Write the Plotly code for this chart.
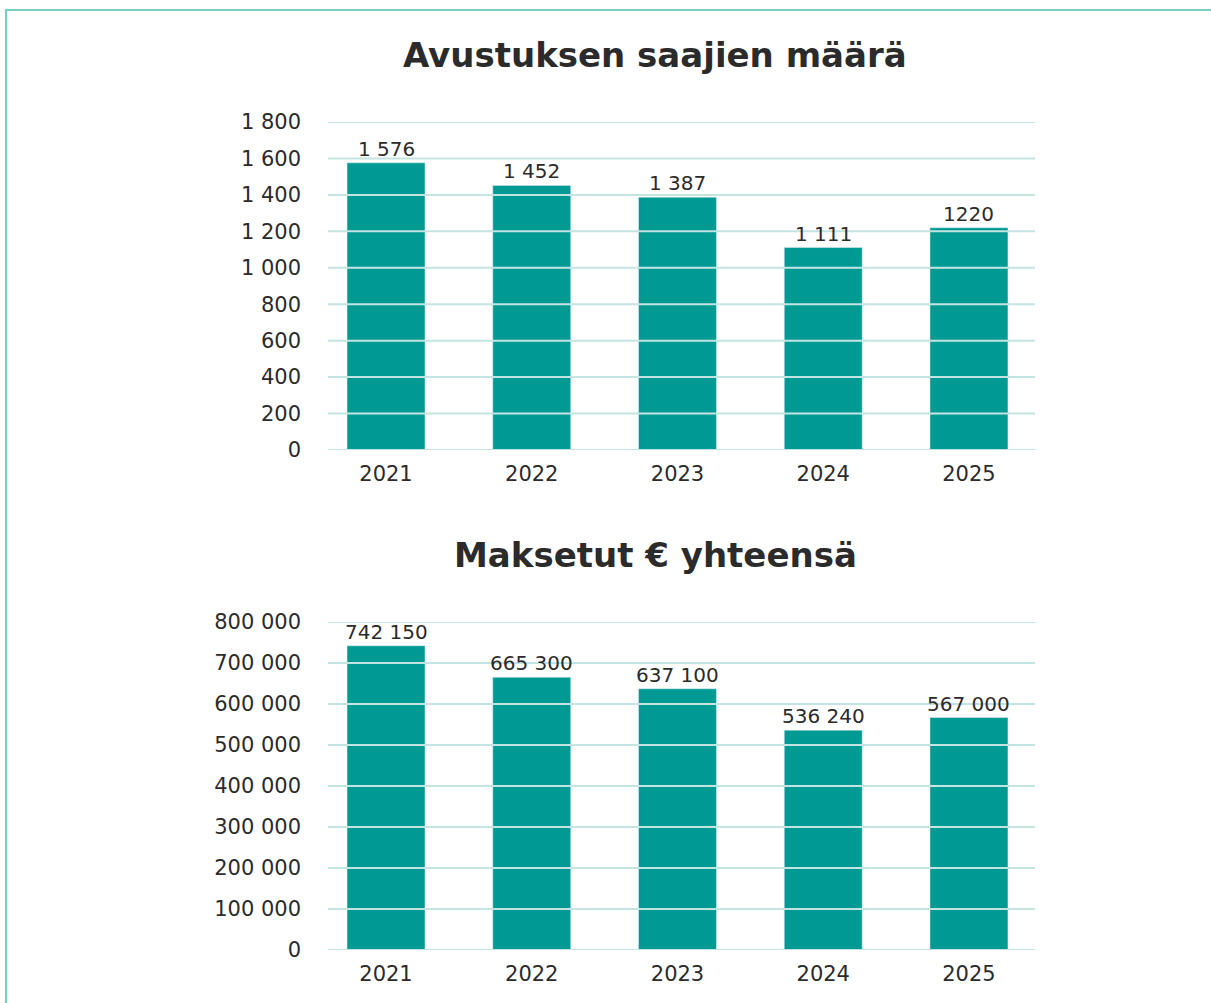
import plotly.graph_objects as go

# Data
years = ["2021", "2022", "2023", "2024", "2025"]
recipients = [1576, 1452, 1387, 1111, 1220]
recipient_labels = ["1 576", "1 452", "1 387", "1 111", "1220"]
paid = [742150, 665300, 637100, 536240, 567000]
paid_labels = ["742 150", "665 300", "637 100", "536 240", "567 000"]

recipient_ticks = list(range(0, 1801, 200))
paid_ticks = list(range(0, 800001, 100000))

BAR = "#009a93"
GRID = "#c3e4e3"
FRAME = "#79cfc7"
TEXT = "#2b2b2b"
FONT = "DejaVu Sans"

W, H = 1211, 1003

fig = go.Figure()

fig.add_trace(go.Bar(x=years, y=recipients, marker_color=BAR, width=0.535,
                     xaxis="x", yaxis="y", showlegend=False))
fig.add_trace(go.Bar(x=years, y=paid, marker_color=BAR, width=0.535,
                     xaxis="x2", yaxis="y2", showlegend=False))

xdom = [328 / W, 1035 / W]
xrange = [-0.398, 4.453]
common_x = dict(type="category", domain=xdom, range=xrange, showgrid=False, showline=False,
                ticks="", tickfont=dict(size=21, color=TEXT, family=FONT), automargin=False,
                ticklabelstandoff=9)
common_y = dict(showgrid=False, zeroline=False, showline=False, ticks="",
                tickfont=dict(size=21, color=TEXT, family=FONT), automargin=False,
                ticklabelstandoff=26)

fig.update_layout(
    width=W, height=H,
    margin=dict(l=0, r=0, t=0, b=0),
    plot_bgcolor="white", paper_bgcolor="white",
    separators=", ",
    xaxis=dict(**common_x, anchor="y"),
    yaxis=dict(**common_y, domain=[1 - 450 / H, 1 - 122 / H], range=[0, 1800],
               tickvals=recipient_ticks, tickformat=",d", anchor="x"),
    xaxis2=dict(**common_x, anchor="y2"),
    yaxis2=dict(**common_y, domain=[1 - 950 / H, 1 - 622 / H], range=[0, 800000],
                tickvals=paid_ticks, tickformat=",d", anchor="x2"),
)

# gridlines drawn above the bars
for v in recipient_ticks:
    fig.add_shape(type="line", xref="x domain", yref="y", x0=0, x1=1, y0=v, y1=v,
                  line=dict(color=GRID, width=2), layer="above")
for v in paid_ticks:
    fig.add_shape(type="line", xref="x2 domain", yref="y2", x0=0, x1=1, y0=v, y1=v,
                  line=dict(color=GRID, width=2), layer="above")

# value labels as annotations so they sit above the gridlines
# (category axis: position by category index)
label_font = dict(size=20, color=TEXT, family=FONT)
for i, (y, t) in enumerate(zip(recipients, recipient_labels)):
    fig.add_annotation(x=i, y=y, text=t, xref="x", yref="y", showarrow=False,
                       yanchor="bottom", font=label_font)
for i, (y, t) in enumerate(zip(paid, paid_labels)):
    fig.add_annotation(x=i, y=y, text=t, xref="x2", yref="y2", showarrow=False,
                       yanchor="bottom", font=label_font)

# outer frame
fig.add_shape(type="rect", xref="paper", yref="paper", x0=6 / W, x1=1.05, y0=-0.05, y1=1 - 10 / H,
              line=dict(color=FRAME, width=2), layer="above")

# titles
fig.add_annotation(text="<b>Avustuksen saajien määrä</b>", xref="paper", yref="paper",
                   x=655 / W, y=1 - 55 / H, showarrow=False, yanchor="middle",
                   font=dict(size=34, color=TEXT, family=FONT))
fig.add_annotation(text="<b>Maksetut € yhteensä</b>", xref="paper", yref="paper",
                   x=655 / W, y=1 - 555 / H, showarrow=False, yanchor="middle",
                   font=dict(size=34, color=TEXT, family=FONT))

fig.write_html("out.html", config={"displayModeBar": False},
               post_script="document.body.style.margin = '0';")
